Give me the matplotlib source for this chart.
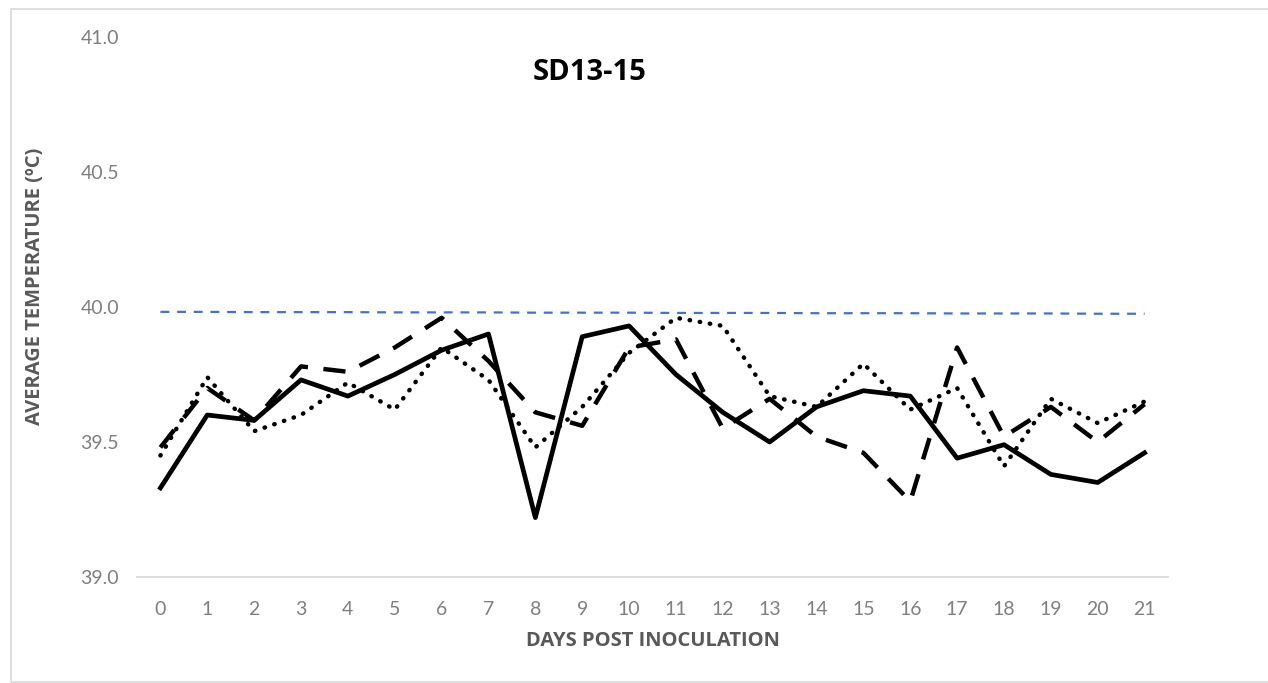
import matplotlib
matplotlib.use("Agg")
import matplotlib.pyplot as plt
from matplotlib.patches import Rectangle

days = list(range(22))
day_labels = [str(d) for d in days]

solid_vals = [39.33, 39.60, 39.58, 39.73, 39.67, 39.75, 39.84, 39.90, 39.22, 39.89, 39.93,
              39.75, 39.61, 39.50, 39.63, 39.69, 39.67, 39.44, 39.49, 39.38, 39.35, 39.46]
dashed_vals = [39.48, 39.70, 39.58, 39.78, 39.76, 39.85, 39.96, 39.80, 39.61, 39.56, 39.85,
               39.88, 39.55, 39.66, 39.52, 39.46, 39.28, 39.85, 39.52, 39.63, 39.50, 39.64]
dotted_vals = [39.45, 39.74, 39.54, 39.60, 39.72, 39.62, 39.85, 39.73, 39.48, 39.63, 39.83,
               39.96, 39.93, 39.67, 39.63, 39.79, 39.62, 39.70, 39.41, 39.66, 39.57, 39.65]
threshold_vals = [39.982, 39.982, 39.981, 39.981, 39.981, 39.980, 39.980, 39.980, 39.979, 39.979, 39.979,
                  39.978, 39.978, 39.978, 39.977, 39.977, 39.977, 39.976, 39.976, 39.976, 39.975, 39.975]

title = "SD13-15"
xlabel = "DAYS POST INOCULATION"
ylabel = "AVERAGE TEMPERATURE (ºC)"
yticks = [39.0, 39.5, 40.0, 40.5, 41.0]

plt.rcParams['font.family'] = ['Lato', 'DejaVu Sans']
bold_family = ['Open Sans', 'DejaVu Sans']

W, H = 1268, 683
fig = plt.figure(figsize=(W / 100, H / 100), dpi=100)
fig.patches.append(Rectangle((11 / W, 1 / H), (W + 5 - 11) / W, (682 - 9) / H,
                             transform=fig.transFigure, fill=False,
                             edgecolor='#d9d9d9', linewidth=1.2))

ax = fig.add_axes([137 / W, 106 / H, (1168 - 137) / W, 540 / H])
ax.set_xlim(-0.5, 21.5)
ax.set_ylim(39.0, 41.0)

ax.plot(days, threshold_vals, color='#4472C4', linewidth=1.6, dashes=(4, 3.5))
ax.plot(days, dotted_vals, color='black', linewidth=3.2, linestyle=(0, (0.1, 2.2)),
        dash_capstyle='round', solid_capstyle='round')
ax.plot(days, dashed_vals, color='black', linewidth=3.2, dashes=(5, 3.5),
        solid_joinstyle='round')
ax.plot(days, solid_vals, color='black', linewidth=3.4, solid_joinstyle='round')

ax.set_xticks(days)
ax.set_xticklabels(day_labels)
ax.set_yticks(yticks)
ax.set_yticklabels([f"{v:.1f}" for v in yticks])
ax.tick_params(axis='both', length=0, labelsize=14, colors='#7f7f7f')
ax.tick_params(axis='x', pad=17)
ax.tick_params(axis='y', pad=13)

for s in ['top', 'right', 'left']:
    ax.spines[s].set_visible(False)
ax.spines['bottom'].set_color('#d9d9d9')
ax.spines['bottom'].set_linewidth(1.3)

fig.text(590 / W, 1 - 72 / H, title, ha='center', va='center', fontsize=21,
         fontweight='bold', color='black', family=bold_family)
fig.text(653 / W, 1 - 641 / H, xlabel, ha='center', va='center', fontsize=14.5,
         fontweight='bold', color='#595959', family=bold_family)
fig.text(35 / W, 1 - 286 / H, ylabel, ha='center', va='center', fontsize=14.5,
         fontweight='bold', color='#595959', rotation=90, family=bold_family)

fig.savefig("out.png", dpi=100)
